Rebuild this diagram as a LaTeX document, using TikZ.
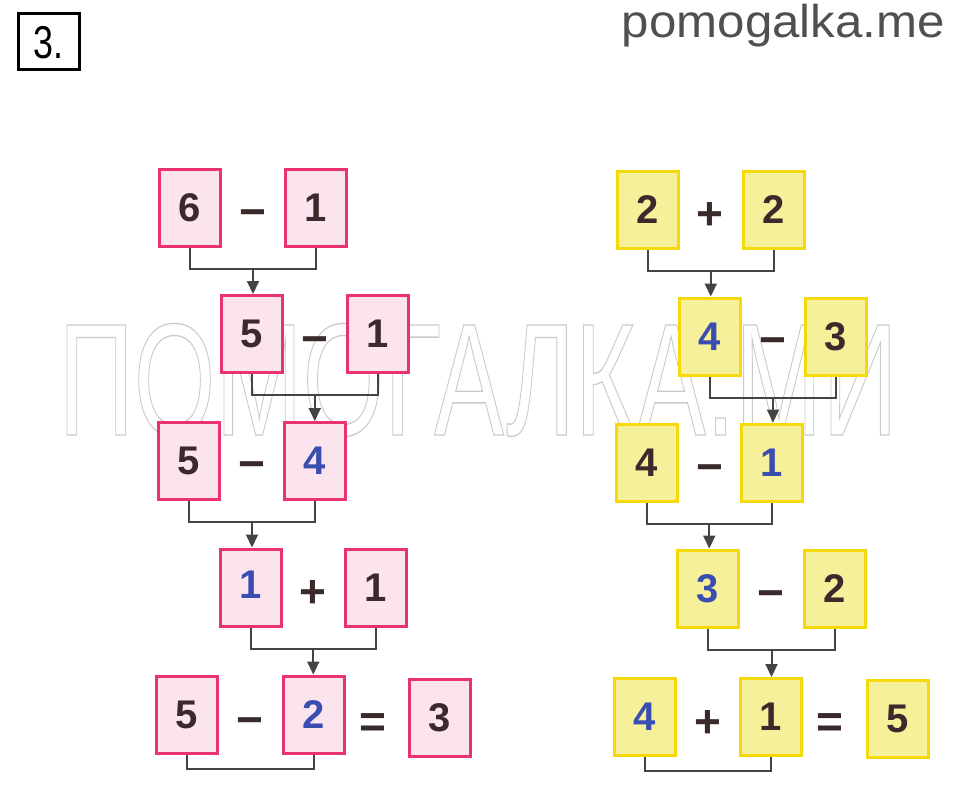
\documentclass[tikz,border=0pt]{standalone}
\usepackage{fontspec}
\setmainfont{Liberation Sans}
\usetikzlibrary{arrows.meta,calc}
\definecolor{pinkfill}{HTML}{FCE4EE}
\definecolor{pinkline}{HTML}{E8336E}
\definecolor{yelfill}{HTML}{F7F09A}
\definecolor{yelline}{HTML}{F5D90A}
\definecolor{digit}{HTML}{3B2A2C}
\definecolor{bluedigit}{HTML}{3A4DB0}
\definecolor{conn}{HTML}{444444}
\definecolor{wmark}{HTML}{BDBDBD}
\definecolor{site}{HTML}{505050}
\tikzset{
  card/.style={line width=3pt, minimum width=61pt, minimum height=77pt, inner sep=0pt,
    font=\fontsize{40}{40}\selectfont\bfseries, text=digit},
  pinkcard/.style={card, draw=pinkline, fill=pinkfill},
  yelcard/.style={card, draw=yelline, fill=yelfill},
  blue/.style={text=bluedigit},
  opsign/.style={inner sep=0pt, font=\fontsize{46}{46}\selectfont\bfseries, text=digit,
    text height=30pt, text depth=0pt},
  link/.style={draw=conn, line width=2pt},
  arr/.style={draw=conn, line width=2pt, -{Triangle[width=12pt,length=13pt]}},
}
\begin{document}
\begin{tikzpicture}[x=1pt,y=-1pt]
\useasboundingbox (0,0) rectangle (960,788);
\fill[white] (0,0) rectangle (960,788);

% ---------- watermark (behind the cards) ----------
\node[inner sep=0pt, text=wmark, opacity=0.8, font=\fontsize{160}{160}\selectfont, xscale=0.655] (wm) at (478,380)
  {\special{pdf:literal direct 1 Tr 1.3 w}ПОМОГАЛКА.МИ\special{pdf:literal direct 0 Tr}};

% header
\node[draw=black, line width=3pt, minimum width=61pt, minimum height=56pt, inner sep=0pt] (num) at (48.5,41) {};
\node[inner sep=0pt, font=\fontsize{46}{46}\selectfont, xscale=0.78] (numtxt) at (48.5,43) {3.};
\node[inner sep=0pt, anchor=base east, font=\fontsize{46}{46}\selectfont, text=site, xscale=1.07] (site) at (945,37) {pomogalka.me};

% ---------- left column ----------
\node[pinkcard] (la1) at (190,207.5) {6};
\node[opsign] (lo1) at (253,212) {−};
\node[pinkcard] (lb1) at (316,207.5) {1};

\node[pinkcard] (la2) at (251.5,334) {5};
\node[opsign] (lo2) at (315,339) {−};
\node[pinkcard] (lb2) at (378,334) {1};

\node[pinkcard] (la3) at (189,461) {5};
\node[opsign] (lo3) at (252,464) {−};
\node[pinkcard, blue] (lb3) at (315,461) {4};

\node[pinkcard, blue] (la4) at (250.5,587.5) {\raisebox{6pt}{1}};
\node[opsign] (lo4) at (313,592) {+};
\node[pinkcard] (lb4) at (376,587.5) {1};

\node[pinkcard] (la5) at (187,714.5) {5};
\node[opsign] (lo5) at (250,720) {−};
\node[pinkcard, blue] (lb5) at (313.5,714.5) {2};
\node[opsign] (le5) at (373,722) {=};
\node[pinkcard] (lc5) at (440,717.5) {3};

% ---------- right column ----------
\node[yelcard] (ra1) at (647.5,209.5) {2};
\node[opsign] (ro1) at (710,214) {+};
\node[yelcard] (rb1) at (774,209.5) {2};

\node[yelcard, blue] (ra2) at (710,336.5) {4};
\node[opsign] (ro2) at (773,340) {−};
\node[yelcard] (rb2) at (836,336.5) {3};

\node[yelcard] (ra3) at (646.5,462.5) {4};
\node[opsign] (ro3) at (710,467) {−};
\node[yelcard, blue] (rb3) at (772,462.5) {1};

\node[yelcard, blue] (ra4) at (708,588.5) {3};
\node[opsign] (ro4) at (771,593) {−};
\node[yelcard] (rb4) at (835,588.5) {2};

\node[yelcard, blue] (ra5) at (645,717) {4};
\node[opsign] (ro5) at (708,722) {+};
\node[yelcard] (rb5) at (771,717) {1};
\node[opsign] (re5) at (830,722) {=};
\node[yelcard] (rc5) at (898,719) {5};

% ---------- connectors ----------
\foreach \a/\b/\n/\d in {la1/lb1/la2/21, la2/lb2/lb3/21, la3/lb3/la4/21, la4/lb4/lb5/21,
                         ra1/rb1/ra2/21, ra2/rb2/rb3/21, ra3/rb3/ra4/21, ra4/rb4/rb5/21}{
  \draw[link] (\a.south) -- ++(0,\d) coordinate (h\a) -| (\b.south);
  \coordinate (m\a) at ($(h\a)!0.5!(\b.south |- h\a)$);
  \draw[arr] (m\a) -- (m\a |- \n.north);
}
\draw[link] (la5.south) -- ++(0,14) -| (lb5.south);
\draw[link] (ra5.south) -- ++(0,14) -| (rb5.south);
\end{tikzpicture}
\end{document}
